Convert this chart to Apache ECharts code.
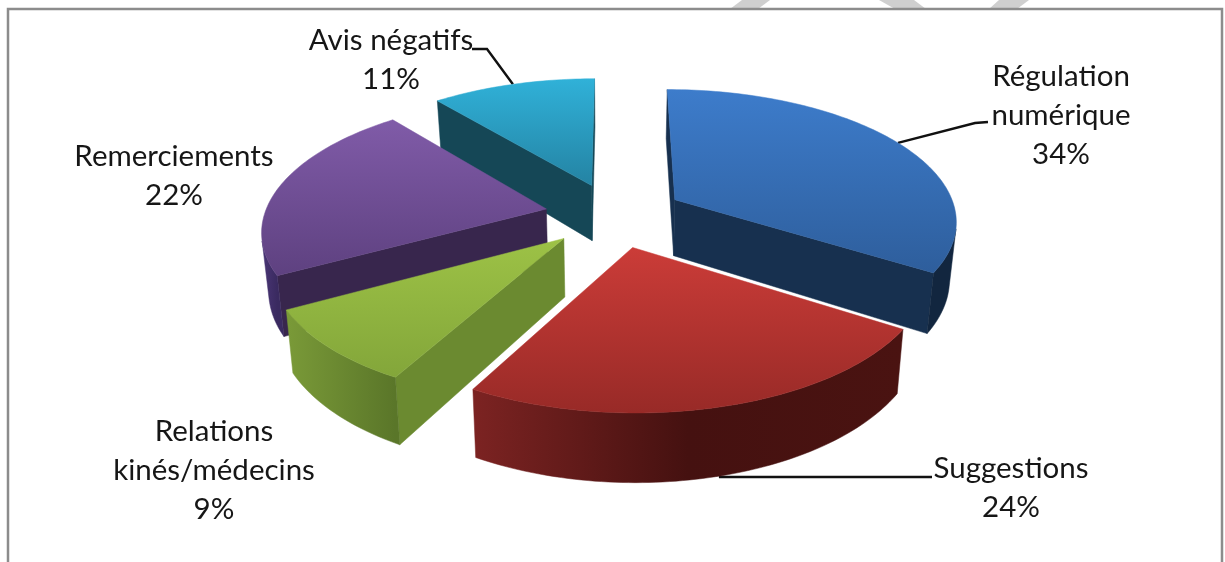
<!DOCTYPE html>
<html lang="fr">
<head>
<meta charset="utf-8">
<title>Répartition des avis</title>
<style>
  html, body { margin: 0; padding: 0; background: #fff; }
  #chart { width: 1225px; height: 562px; }
</style>
<script src="https://cdn.jsdelivr.net/npm/echarts@6/dist/echarts.min.js"></script>
</head>
<body>
<div id="chart"></div>
<script>
// Chart data, in clockwise order from twelve o'clock.
const categories = ['Régulation\nnumérique', 'Suggestions', 'Relations\nkinés/médecins', 'Remerciements', 'Avis négatifs'];
const values = [34, 24, 9, 22, 11];

// Slice colours: top face gradient, radial walls, outer wall gradient.
const topColors = [['#3D7CCB', '#2E5E9C'], ['#CB3C38', '#982A27'], ['#9DC246', '#83A63A'], ['#805BA8', '#5E4180'], ['#30B1D8', '#2483A3']];
const wallColors = ['#17304F', '#4A1210', '#6B8A30', '#38264D', '#154756'];
const rimColors = [['#12263F', '#12263F'], ['#7C2322', '#451110', '#4A1311'], ['#7A9A38', '#5A7629'], ['#4A3676', '#3A2A60'], ['#154756', '#154756']];

// Text block centres and leader-line routes.
const labelCentres = [[1061, 115], [1011, 488], [214, 470], [174, 176], [391, 60]];
const leaderRoutes = [[[975, 123], [988, 122]], [[932, 477]], null, null, [[487, 49], [472, 49]]];

// Projection of the tilted pie onto the page.
const view = {
  vx: 614.6,      // vanishing column
  y0: 215,        // row of the pie centre
  w: 282,         // horizontal radius
  h: 130.5,       // vertical radius after tilt
  persp: 0.147,   // depth foreshortening
  explode: 0.248, // slice offset relative to the radius
  depth: 57,      // wall height
  converge: 0.02  // walls lean towards the vanishing column
};

function project(X, Y) {
  const f = 1 / (1 + view.persp * Y);
  return [view.vx + view.w * X * f, view.y0 - view.h * Y * f, f];
}
function lower(p) {
  return [view.vx + (p[0] - view.vx) * (1 - view.converge), p[1] + view.depth * p[2]];
}

const total = values.reduce((a, b) => a + b, 0);
let cumulative = 0;
const slices = values.map((v, i) => {
  const a0 = cumulative / total * 2 * Math.PI;
  cumulative += v;
  const a1 = cumulative / total * 2 * Math.PI;
  const mid = (a0 + a1) / 2;
  const ox = view.explode * Math.sin(mid);
  const oy = view.explode * Math.cos(mid);
  const rim = a => project(ox + Math.sin(a), oy + Math.cos(a));
  const steps = Math.max(8, Math.round((a1 - a0) / 0.02));
  const arc = [];
  for (let k = 0; k <= steps; k++) arc.push(rim(a0 + (a1 - a0) * k / steps));
  return { index: i, a0, a1, mid, ox, oy, rim, arc, apex: project(ox, oy) };
});

// Farther slices are painted first.
const paintOrder = slices.slice().sort((a, b) => b.oy - a.oy).map(s => s.index);

const xy = p => [p[0], p[1]];
const cross = (o, a, b) => (a[0] - o[0]) * (b[1] - o[1]) - (a[1] - o[1]) * (b[0] - o[0]);
const gradient = (x, y, x2, y2, c) => new echarts.graphic.LinearGradient(
  x, y, x2, y2, c.map((color, k) => ({ offset: k / (c.length - 1), color })), true);
const poly = (points, fill, extra) => ({
  type: 'polygon',
  shape: { points },
  style: Object.assign({ fill, stroke: fill, lineWidth: 0.5 }, extra || {})
});

function wallFaces(s, i) {
  const out = [];
  const apex = s.apex, apexLow = lower(apex);
  const first = s.arc[0], last = s.arc[s.arc.length - 1];
  if (cross(apex, first, apexLow) < 0) {
    out.push(poly([xy(apex), xy(first), lower(first), apexLow], wallColors[i]));
  }
  if (cross(apex, last, apexLow) > 0) {
    out.push(poly([xy(apex), xy(last), lower(last), apexLow], wallColors[i]));
  }
  // Outer wall: only the part of the rim turned towards the viewer.
  const run = [];
  for (let k = 0; k < s.arc.length - 1; k++) {
    const a = s.arc[k], b = s.arc[k + 1];
    if (cross(a, b, lower(a)) < 0) {
      if (!run.length) run.push(a);
      run.push(b);
    }
  }
  if (run.length) {
    const xs = run.map(p => p[0]);
    const fill = gradient(Math.min(...xs), 0, Math.max(...xs), 0, rimColors[i]);
    out.push(poly(run.map(xy).concat(run.slice().reverse().map(lower)), fill));
  }
  return out;
}

function renderSlice(params, api) {
  const i = api.value(0);
  const s = slices[i];
  const topFace = [xy(s.apex)].concat(s.arc.map(xy));
  const ys = topFace.map(p => p[1]);
  const children = [];

  // Leader line from the middle of the slice's rim to its text.
  const route = leaderRoutes[i];
  if (route) {
    const anchor = s.rim(s.mid);
    const start = s.mid > Math.PI / 2 && s.mid < 1.5 * Math.PI ? lower(anchor) : xy(anchor);
    const pts = [start].concat(route);
    if (route.length === 1) pts[0] = [start[0], route[0][1]];
    children.push({
      type: 'polyline',
      shape: { points: pts },
      style: { stroke: '#111', lineWidth: 2.4, fill: null }
    });
  }

  // Soft cast shadow under the slice's footprint.
  children.push(poly(topFace.map(lower), wallColors[i], {
    shadowBlur: 7, shadowColor: 'rgba(0,0,0,0.65)', shadowOffsetX: 1, shadowOffsetY: 2
  }));
  children.push(...wallFaces(s, i));
  children.push(poly(topFace, gradient(0, Math.min(...ys), 0, Math.max(...ys), topColors[i])));

  const c = labelCentres[i];
  children.push({
    type: 'text',
    z2: 10,
    style: {
      x: c[0], y: c[1],
      text: categories[i] + '\n' + values[i] + '%',
      align: 'center', verticalAlign: 'middle',
      font: '29.5px Lato, "Open Sans", sans-serif',
      lineHeight: 39,
      fill: '#161616'
    }
  });
  return { type: 'group', children };
}

// Panel frame and the grey diagonal bands above it.
const frame = { left: 8, top: 9, right: 1222, bottom: 575 };
const bands = [
  [[742, 0], [770, 0], [758, 9], [730, 9]],
  [[879, 0], [914, 0], [926, 9], [895, 9]],
  [[999, 0], [1029, 0], [1017, 9], [989, 9]]
];

const chart = echarts.init(document.getElementById('chart'), null, { renderer: 'canvas' });
chart.setOption({
  animation: false,
  backgroundColor: '#ffffff',
  graphic: {
    elements: bands.map(points => ({
      type: 'polygon', shape: { points }, style: { fill: '#CFCFCF' }, silent: true, z: 0
    })).concat([{
      type: 'rect',
      shape: { x: frame.left, y: frame.top, width: frame.right - frame.left, height: frame.bottom - frame.top },
      style: { fill: '#fff', stroke: '#8C8C8C', lineWidth: 2.5 },
      silent: true, z: 0
    }])
  },
  series: [{
    type: 'custom',
    coordinateSystem: 'none',
    clip: false,
    silent: true,
    z: 5,
    data: paintOrder.map(i => [i, values[i]]),
    renderItem: renderSlice
  }]
});
</script>
</body>
</html>
